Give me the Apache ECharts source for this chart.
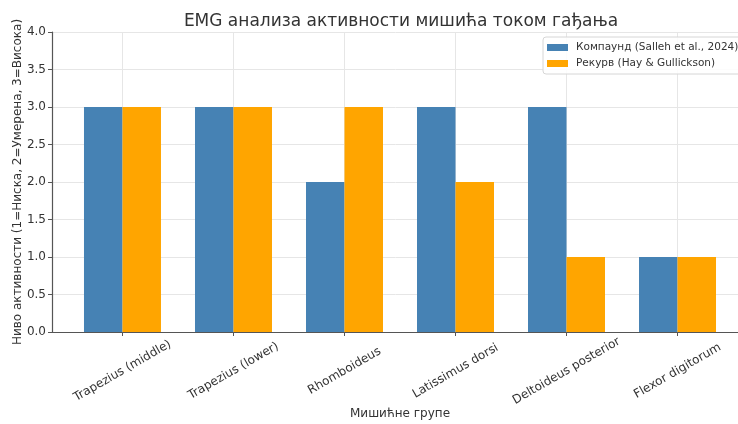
<!DOCTYPE html>
<html>
<head>
<meta charset="utf-8">
<script src="https://cdn.jsdelivr.net/npm/echarts@6/dist/echarts.min.js"></script>
<style>
  html, body { margin: 0; padding: 0; background: #fff; }
  #chart { width: 738px; height: 424px; }
</style>
</head>
<body>
<div id="chart"></div>
<script>
// Muscle groups and activity levels (1 = low, 2 = moderate, 3 = high)
const muscles = ['Trapezius (middle)', 'Trapezius (lower)', 'Rhomboideus',
                 'Latissimus dorsi', 'Deltoideus posterior', 'Flexor digitorum'];
const compoundLevels = [3, 3, 2, 3, 3, 1];
const recurveLevels  = [3, 3, 3, 2, 1, 1];
const seriesNames = ['Компаунд (Salleh et al., 2024)', 'Рекурв (Hay & Gullickson)'];
const yTicks = [0, 0.5, 1, 1.5, 2, 2.5, 3, 3.5, 4];

const FONT = 'DejaVu Sans';
const positions = muscles.map((_, i) => i);

const chart = echarts.init(document.getElementById('chart'), null, { renderer: 'canvas' });

chart.setOption({
  animation: false,
  textStyle: { fontFamily: FONT },
  title: {
    text: 'EMG анализа активности мишића током гађања',
    left: 396, top: 8, textAlign: 'center',
    textStyle: { fontFamily: FONT, fontSize: 17, fontWeight: 'normal', color: '#333' }
  },
  legend: {
    left: 543, top: 37,
    orient: 'vertical',
    itemWidth: 21, itemHeight: 7, itemGap: 5,
    padding: [5, 6, 5, 4],
    borderColor: '#d6d6d6', borderWidth: 1, borderRadius: 3,
    backgroundColor: 'rgba(255,255,255,0.85)',
    icon: 'rect',
    textStyle: { fontFamily: FONT, fontSize: 10.5, color: '#333', padding: [0, 0, 0, 3] },
    data: seriesNames
  },
  grid: { left: 52, top: 32, bottom: 92, right: -10, outerBoundsMode: 'none', containLabel: false },
  xAxis: {
    type: 'value',
    min: -0.635, max: 5.635,
    name: 'Мишићне групе',
    nameLocation: 'middle', nameGap: 76, nameMoveOverlap: false,
    nameTextStyle: { fontFamily: FONT, fontSize: 12, color: '#333' },
    axisLine: { show: true, onZero: false, lineStyle: { color: '#555', width: 1.2 } },
    axisTick: { show: true, customValues: positions, length: 4, lineStyle: { color: '#555' } },
    axisLabel: {
      customValues: positions,
      formatter: v => muscles[Math.round(v)],
      rotate: 30, align: 'center', verticalAlign: 'middle', margin: 39,
      fontFamily: FONT, fontSize: 12, color: '#333'
    },
    splitLine: { show: true, lineStyle: { color: '#e6e6e6', width: 1 } }
  },
  yAxis: {
    type: 'value',
    min: 0, max: 4, interval: 0.5,
    name: 'Ниво активности (1=Ниска, 2=Умерена, 3=Висока)',
    nameLocation: 'middle', nameGap: 28, nameMoveOverlap: false,
    nameTextStyle: { fontFamily: FONT, fontSize: 12, color: '#333' },
    axisLine: { show: true, onZero: false, lineStyle: { color: '#555', width: 1.2 } },
    axisTick: { show: true, length: 4, lineStyle: { color: '#555' } },
    axisLabel: {
      formatter: v => v.toFixed(1),
      fontFamily: FONT, fontSize: 12, color: '#333', margin: 6
    },
    splitLine: { show: true, lineStyle: { color: '#e6e6e6', width: 1 } }
  },
  series: [
    {
      name: seriesNames[0], type: 'bar',
      barWidth: 38.5, barGap: '0%',
      itemStyle: { color: '#4682B4' },
      data: compoundLevels.map((v, i) => [positions[i], v])
    },
    {
      name: seriesNames[1], type: 'bar',
      barWidth: 38.5, barGap: '0%',
      itemStyle: { color: '#FFA500' },
      data: recurveLevels.map((v, i) => [positions[i], v])
    }
  ]
});
</script>
</body>
</html>
